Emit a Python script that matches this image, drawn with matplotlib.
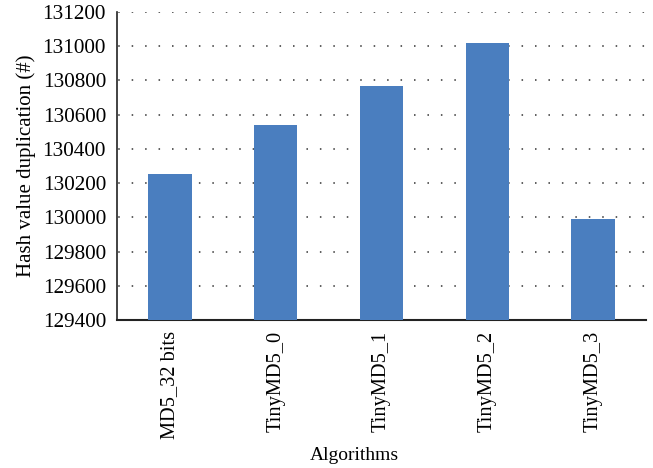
import matplotlib
matplotlib.use("Agg")
import matplotlib.pyplot as plt
from matplotlib.ticker import MultipleLocator

algorithms = ["MD5_32 bits", "TinyMD5_0", "TinyMD5_1", "TinyMD5_2", "TinyMD5_3"]
duplication = [130254, 130541, 130769, 131020, 129991]

plt.rcParams["font.family"] = ["Liberation Serif", "DejaVu Serif"]

fig = plt.figure(figsize=(6.53, 4.68), dpi=100)
ax = fig.add_axes([117 / 653, 1 - 320 / 468, 529 / 653, 308 / 468])

x = range(len(algorithms))
ax.bar(x, duplication, width=0.41, color="#4a7ebf", zorder=3)

ax.set_ylim(129400, 131200)
ax.set_xlim(-0.5, len(algorithms) - 0.5)
ax.yaxis.set_major_locator(MultipleLocator(200))
ax.set_xticks(list(x))
ax.set_xticklabels(algorithms, rotation=90, fontsize=14.7)
ax.tick_params(axis="y", labelsize=15.3, length=0, pad=8)
ax.tick_params(axis="x", length=0, pad=8)

ax.yaxis.grid(True, linestyle=(8, (1, 7.8)), color="#333333", linewidth=1.1)
ax.set_axisbelow(True)

for s in ("top", "right"):
    ax.spines[s].set_visible(False)
ax.spines["left"].set_color("#222222")
ax.spines["bottom"].set_color("#222222")
ax.spines["left"].set_linewidth(1.2)
ax.spines["bottom"].set_linewidth(1.5)

ax.set_ylabel("Hash value duplication (#)", fontsize=15, labelpad=5)
fig.text(354 / 653, 1 - 455 / 468, "Algorithms", fontsize=14,
         ha="center", va="center")

fig.savefig("out.png", dpi=100)
